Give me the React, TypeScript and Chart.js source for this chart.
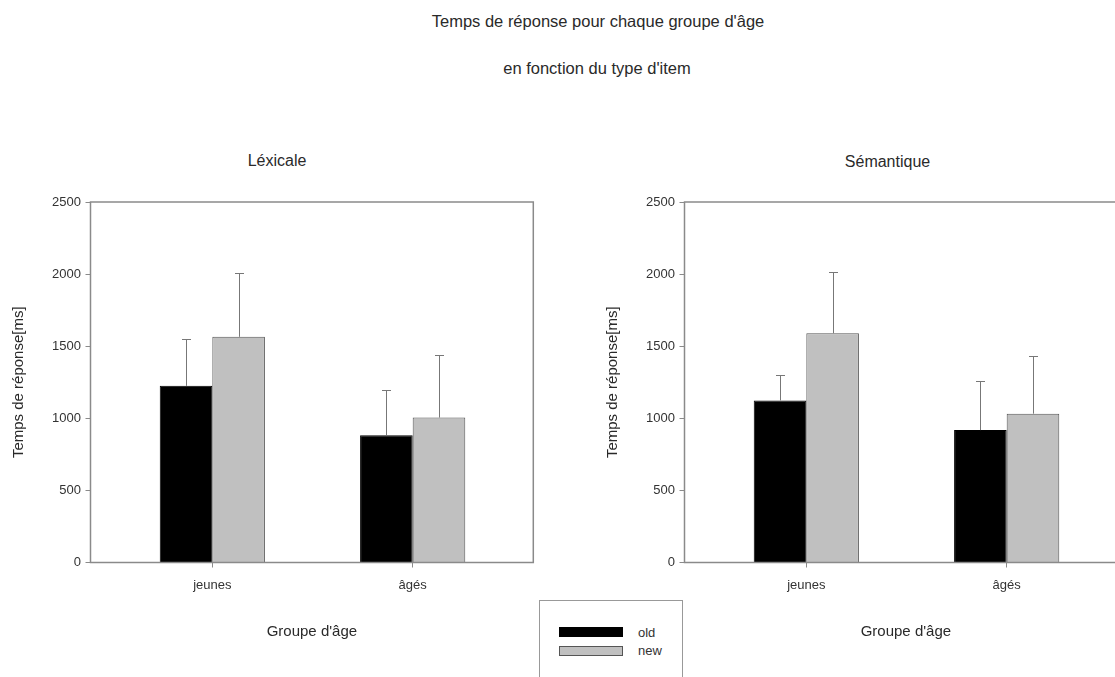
import React, { useEffect, useRef } from 'react';
import { Chart, registerables } from 'chart.js';

Chart.register(...registerables);

// ---------- data ----------
const categories = ['jeunes', 'âgés'];
const seriesNames = ['old', 'new'];
const panelTitles = ['Léxicale', 'Sémantique'];
const mainTitle = ["Temps de réponse pour chaque groupe d'âge", "en fonction du type d'item"];
const yAxisTitle = 'Temps de réponse[ms]';
const xAxisTitle = "Groupe d'âge";
const yTicks = [0, 500, 1000, 1500, 2000, 2500];

const lexOld = [1225, 883];
const lexNew = [1565, 1005];
const lexOldErr = [322, 312];
const lexNewErr = [445, 435];

const semOld = [1124, 918];
const semNew = [1590, 1032];
const semOldErr = [173, 339];
const semNewErr = [423, 399];

// ---------- styles ----------
const FONT = '"Liberation Sans", Arial, Helvetica, sans-serif';
const fills = ['#000000', '#c0c0c0'];
const borders = ['#000000', '#555555'];
const AXIS_COLOR = '#8a8a8a';
const TEXT_COLOR = '#2a2a2a';

const framePlugin = {
  id: 'frame',
  afterDatasetsDraw(chart: any) {
    const { ctx, chartArea } = chart;
    ctx.save();
    ctx.strokeStyle = AXIS_COLOR;
    ctx.lineWidth = 1.5;
    ctx.strokeRect(chartArea.left, chartArea.top, chartArea.right - chartArea.left, chartArea.bottom - chartArea.top);
    ctx.restore();
  },
};

const errorBarPlugin = {
  id: 'errorBars',
  afterDatasetsDraw(chart: any) {
    const { ctx } = chart;
    const yScale = chart.scales.y;
    ctx.save();
    ctx.strokeStyle = '#777777';
    ctx.lineWidth = 1;
    chart.data.datasets.forEach((ds: any, i: number) => {
      const meta = chart.getDatasetMeta(i);
      meta.data.forEach((bar: any, j: number) => {
        const v = ds.data[j].y;
        const top = Math.round(yScale.getPixelForValue(v + ds.errors[j])) + 0.5;
        const x = Math.round(bar.x) + 0.5;
        ctx.beginPath();
        ctx.moveTo(x, bar.y);
        ctx.lineTo(x, top);
        ctx.moveTo(x - 4.5, top);
        ctx.lineTo(x + 4.5, top);
        ctx.stroke();
      });
    });
    ctx.restore();
  },
};

function makeConfig(oldV: number[], newV: number[], oldE: number[], newE: number[]): any {
  const series = [oldV, newV];
  const errs = [oldE, newE];
  return {
    type: 'bar',
    data: {
      datasets: seriesNames.map((name, k) => ({
        label: name,
        data: categories.map((_, i) => ({ x: i, y: series[k][i] })),
        errors: errs[k],
        backgroundColor: fills[k],
        borderColor: borders[k],
        borderWidth: 1,
        categoryPercentage: 0.525,
        barPercentage: 1,
      })),
    },
    options: {
      responsive: false,
      animation: false,
      events: [],
      layout: { padding: { top: 52, left: 0, right: 26.7, bottom: 0 } },
      plugins: {
        legend: { display: false },
        title: { display: false },
        tooltip: { enabled: false },
      },
      scales: {
        x: {
          type: 'linear',
          min: -0.608,
          max: 1.602,
          offset: false,
          afterBuildTicks: (s: any) => {
            s.ticks = categories.map((_, i) => ({ value: i }));
          },
          afterFit: (s: any) => {
            s.height = 114.5;
          },
          grid: { offset: false, drawOnChartArea: false, drawTicks: true, tickLength: 5, color: AXIS_COLOR },
          border: { display: false },
          ticks: {
            callback: (v: number) => categories[Math.round(v)] ?? '',
            font: { family: FONT, size: 13 },
            color: '#333333',
            padding: 10,
            maxRotation: 0,
            autoSkip: false,
          },
          title: {
            display: true,
            text: xAxisTitle,
            font: { family: FONT, size: 15 },
            color: TEXT_COLOR,
            padding: { top: 0, bottom: 36 },
          },
        },
        y: {
          type: 'linear',
          min: 0,
          max: 2500,
          afterBuildTicks: (s: any) => {
            s.ticks = yTicks.map((v) => ({ value: v }));
          },
          afterFit: (s: any) => {
            s.width = 90.5;
          },
          grid: { drawOnChartArea: false, drawTicks: true, tickLength: 5, color: AXIS_COLOR },
          border: { display: false },
          ticks: {
            callback: (v: number) => String(v),
            font: { family: FONT, size: 13 },
            color: '#333333',
            padding: 4.5,
          },
          title: {
            display: true,
            text: yAxisTitle,
            font: { family: FONT, size: 15 },
            color: TEXT_COLOR,
            padding: { top: 10, bottom: 0 },
          },
        },
      },
    },
    plugins: [framePlugin, errorBarPlugin],
  };
}

function Panel({ left, config }: { left: number; config: () => any }) {
  const ref = useRef<HTMLCanvasElement | null>(null);
  useEffect(() => {
    const chart = new Chart(ref.current as HTMLCanvasElement, config());
    return () => chart.destroy();
  }, []);
  return (
    <canvas
      ref={ref}
      width={560}
      height={527}
      style={{ position: 'absolute', left, top: 150, width: 560, height: 527 }}
    />
  );
}

const textStyle: React.CSSProperties = {
  position: 'absolute',
  fontFamily: FONT,
  color: TEXT_COLOR,
  whiteSpace: 'nowrap',
  transform: 'translateX(-50%)',
  lineHeight: '20px',
};

export default function App() {
  return (
    <div
      style={{
        position: 'fixed',
        left: 0,
        top: 0,
        width: 1115,
        height: 677,
        overflow: 'hidden',
        background: '#ffffff',
      }}
    >
      <div style={{ ...textStyle, left: 598, top: 11, fontSize: 16.5 }}>{mainTitle[0]}</div>
      <div style={{ ...textStyle, left: 597, top: 58, fontSize: 16.5 }}>{mainTitle[1]}</div>
      <div style={{ ...textStyle, left: 277, top: 151, fontSize: 16 }}>{panelTitles[0]}</div>
      <div style={{ ...textStyle, left: 887.5, top: 152, fontSize: 16 }}>{panelTitles[1]}</div>

      <Panel left={0} config={() => makeConfig(lexOld, lexNew, lexOldErr, lexNewErr)} />
      <Panel left={594} config={() => makeConfig(semOld, semNew, semOldErr, semNewErr)} />

      <div
        style={{
          position: 'absolute',
          left: 539,
          top: 600,
          width: 144,
          height: 120,
          border: '1px solid #999999',
          boxSizing: 'border-box',
          background: '#ffffff',
        }}
      >
        {seriesNames.map((name, i) => (
          <React.Fragment key={name}>
            <div
              style={{
                position: 'absolute',
                left: 19,
                top: 26 + i * 19,
                width: 64,
                height: 10,
                background: fills[i],
                border: `1px solid ${borders[i]}`,
                boxSizing: 'border-box',
              }}
            />
            <div
              style={{
                position: 'absolute',
                left: 98,
                top: 24 + i * 18,
                fontFamily: FONT,
                fontSize: 13,
                lineHeight: '15px',
                color: '#333333',
              }}
            >
              {name}
            </div>
          </React.Fragment>
        ))}
      </div>
    </div>
  );
}
